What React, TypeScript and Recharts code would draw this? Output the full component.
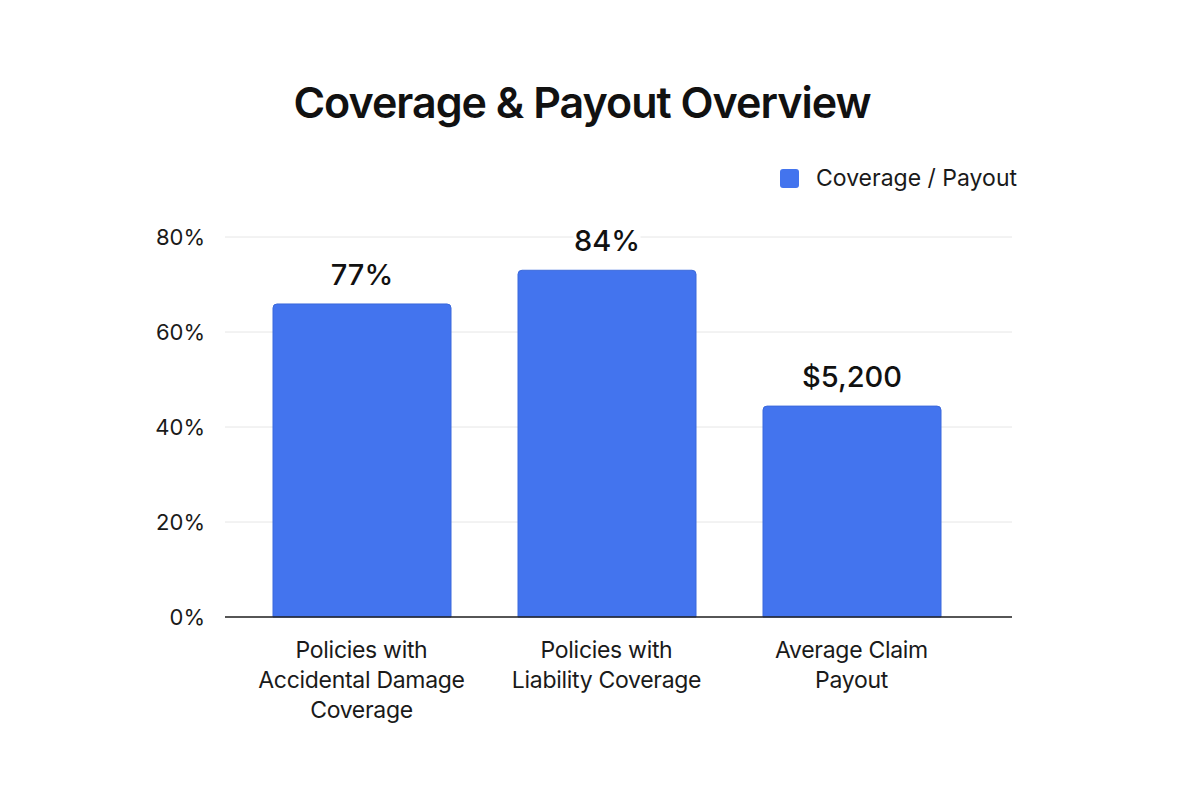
import React from "react";
import { BarChart, Bar, XAxis, YAxis, CartesianGrid, Legend, LabelList } from "recharts";

const categories = [
  "Policies with\nAccidental Damage\nCoverage",
  "Policies with\nLiability Coverage",
  "Average Claim\nPayout",
];
const barValues = [65.9, 73.0, 44.4];
const valueLabels = ["77%", "84%", "$5,200"];
const yTicks = [0, 20, 40, 60, 80];
const seriesName = "Coverage / Payout";
const titleText = "Coverage & Payout Overview";

const data = categories.map((c, i) => ({ name: c, value: barValues[i], label: valueLabels[i] }));

const FONT = "Inter, 'Noto Sans', sans-serif";
const BAR_COLOR = "#4374EE";

const XTick = (props: any) => {
  const { x, y, payload } = props;
  const lines = String(payload.value).split("\n");
  return (
    <text x={x} y={y} textAnchor="middle" fill="#1a1a1a" fontFamily={FONT} fontSize={23} letterSpacing={-0.3}>
      {lines.map((l, i) => (
        <tspan key={i} x={x} dy={i === 0 ? 33 : 30}>
          {l}
        </tspan>
      ))}
    </text>
  );
};

const ValueLabel = (props: any) => {
  const { x, y, width, value } = props;
  const cx = x + width / 2;
  const cy = y - 29;
  const w = String(value).length * 17 + 16;
  return (
    <g>
      <rect x={cx - w / 2} y={cy - 18} width={w} height={36} fill="#ffffff" />
      <text x={cx} y={cy + 10} textAnchor="middle" fill="#111" fontFamily={FONT} fontSize={29} fontWeight={500}>
        {value}
      </text>
    </g>
  );
};

const LegendContent = () => (
  <div style={{ display: "flex", alignItems: "center", fontFamily: FONT, fontSize: 23, color: "#1a1a1a" }}>
    <span style={{ display: "inline-block", width: 19, height: 19, background: BAR_COLOR, borderRadius: 3, marginRight: 17 }} />
    <span>{seriesName}</span>
  </div>
);

export default function App() {
  return (
    <div style={{ position: "absolute", left: 0, top: 0, width: 1200, height: 800, background: "#fff" }}>
      <div
        style={{
          position: "absolute",
          left: 0,
          top: 74,
          width: 1164,
          textAlign: "center",
          fontFamily: FONT,
          fontSize: 43,
          fontWeight: 600,
          letterSpacing: -1,
          color: "#111",
          lineHeight: "56px",
        }}
      >
        {titleText}
      </div>
      <BarChart
        width={1200}
        height={800}
        data={data}
        margin={{ top: 237, right: 188, bottom: 83, left: 145 }}
      >
        <CartesianGrid vertical={false} stroke="#e6e6e6" strokeWidth={1} />
        <XAxis
          dataKey="name"
          height={100}
          interval={0}
          tick={<XTick />}
          tickLine={false}
          axisLine={{ stroke: "#222", strokeWidth: 1.6 }}
          padding={{ left: 14, right: 38 }}
        />
        <YAxis
          width={80}
          domain={[0, 80]}
          ticks={yTicks}
          tickFormatter={(v: number) => `${v}%`}
          tickLine={false}
          axisLine={false}
          tickMargin={14}
          tick={{ fill: "#1a1a1a", fontSize: 22, fontFamily: FONT }}
        />
        <Legend
          verticalAlign="middle"
          align="center"
          layout="horizontal"
          content={<LegendContent />}
          wrapperStyle={{ position: "absolute", top: 164, left: 780, width: 260, height: 30 }}
        />
        <Bar
          dataKey="value"
          name={seriesName}
          fill={BAR_COLOR}
          stroke="#3b69dc"
          strokeWidth={1}
          barSize={178}
          radius={[4, 4, 0, 0]}
          isAnimationActive={false}
        >
          <LabelList dataKey="label" content={<ValueLabel />} />
        </Bar>
      </BarChart>
    </div>
  );
}
